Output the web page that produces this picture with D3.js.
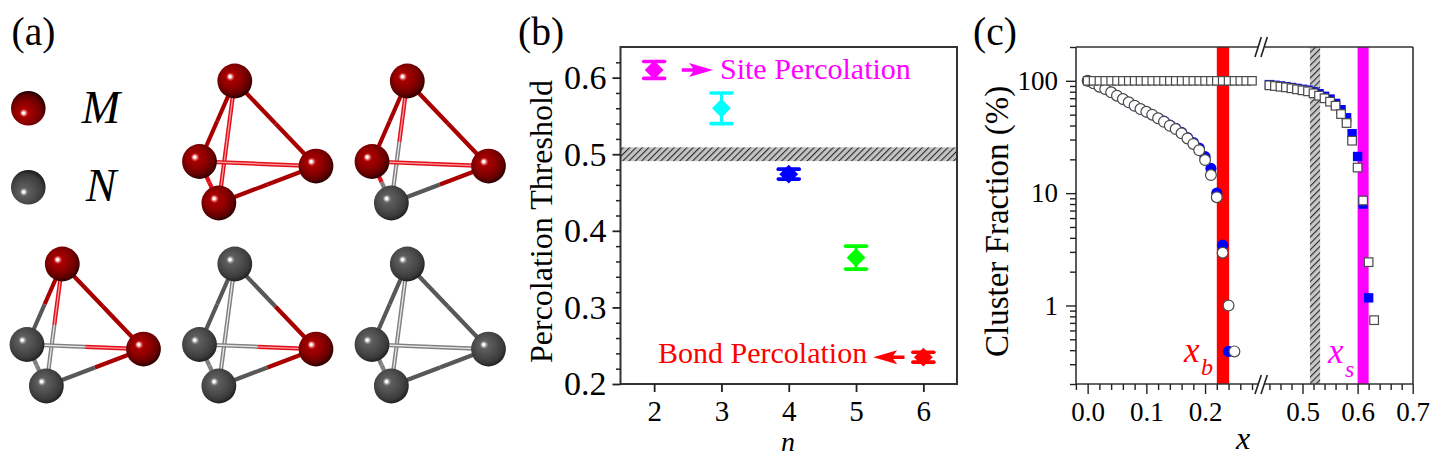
<!DOCTYPE html>
<html><head><meta charset="utf-8">
<script src="https://cdnjs.cloudflare.com/ajax/libs/d3/7.8.5/d3.min.js"></script>
<style>
html,body{margin:0;padding:0;background:#fff}
svg{display:block}
text{font-family:"Liberation Serif",serif}
</style></head><body>
<svg id="c" width="1437" height="460"></svg>
<script>
// ---------- data: panel (b)
const nValues   = [2, 3, 4, 5, 6];
const threshold = [0.61, 0.56, 0.474, 0.365, 0.235];
const thresholdErr = [0.011, 0.02, 0.0065, 0.015, 0.0065];
const nColors   = ["#ff00ff", "#00ffff", "#0000ff", "#00ff00", "#ff0000"];
const bandB     = [0.491, 0.509];
// ---------- data: panel (c)
const bondX = d3.range(0, 26).map(i => i / 100);
const bondOpen = [100,95,88.6,84.5,79,73.7,68.8,64.3,60,56,53,49.9,46.4,43.2,39.8,37.2,34.1,30.7,27.4,24.1,19.7,14.5,9.2,2.95,1.0,0.39];
const bondBlueX = d3.range(0, 25).map(i => i / 100);
const bondBlue = [100,95,88.6,84.5,79,73.7,68.8,64.3,60,56,53,49.9,46.4,43.7,40.3,37.7,34.7,31.3,28.2,25.2,21.1,16.6,10,3.44,0.39];
const flatX = d3.range(0, 29).map(i => i / 100);
const flatOpen = [100,100,100,100,100,100,100,100,100,100,100,100,100,100,100,100,100,100,100,100,100,100,100,100,100,100,100,100,100];
const siteX = d3.range(44, 64).map(i => i / 100);
const siteOpen = [91.2,89.9,88.6,87.5,85.8,84,82.3,80.6,77.4,73.7,69.9,65.2,60,50.6,42.1,29.3,16.9,8.6,2.43,0.74];
const siteBlueX = d3.range(44, 63).map(i => i / 100);
const siteBlue = [92.5,91.2,89.9,88.8,87.2,85.6,84,82.6,79.8,76.8,72.8,68.8,62.9,55.3,46.9,33.8,21.2,8.0,1.17];
const bandBond = [0.22, 0.241];
const bandSite = [0.6, 0.62];
const bandMid  = [0.5135, 0.532];
// ---------- data: panel (a)
const vertexU = {T:0.303, L:0, R:1, B:0.166};
const vertexV = {T:0, L:0.66, R:0.697, B:1};
const edges = [["T","L",0],["T","R",0],["B","R",0],["L","B",2],["T","B",1],["L","R",1]];
const molecules = [
 {col:1,row:0,M:"TLRB"},{col:2,row:0,M:"TLR"},
 {col:0,row:1,M:"TR"},{col:1,row:1,M:"R"},{col:2,row:1,M:""}
];

const svg = d3.select("#c");
const defs = svg.append("defs");
function sphereGrad(id, stops, cy, fy){
  const g = defs.append("radialGradient").attr("id",id)
    .attr("cx",0.46).attr("cy",cy).attr("r",0.62).attr("fx",0.355).attr("fy",fy);
  stops.forEach(s=>g.append("stop").attr("offset",s[0]).attr("stop-color",s[1]));
}
const redStops=[[0,"#fff"],[0.05,"#fff"],[0.13,"#dc5050"],[0.2,"#a80000"],[0.5,"#8c0000"],[0.78,"#600000"],[0.95,"#260000"],[1,"#1a0000"]];
const grayStops=[[0,"#fff"],[0.05,"#fff"],[0.13,"#909090"],[0.2,"#5e5e5e"],[0.5,"#4d4d4d"],[0.78,"#3a3a3a"],[0.95,"#1e1e1e"],[1,"#161616"]];
sphereGrad("sM",redStops,0.42,0.37); sphereGrad("sN",grayStops,0.42,0.37);
sphereGrad("lM",redStops,0.6,0.64);  sphereGrad("lN",grayStops,0.6,0.64);
function hatch(id,bg){
  const p=defs.append("pattern").attr("id",id).attr("patternUnits","userSpaceOnUse")
    .attr("width",4.5).attr("height",4.5).attr("patternTransform","rotate(45)");
  p.append("rect").attr("width",4.5).attr("height",4.5).attr("fill",bg);
  p.append("rect").attr("width",1.1).attr("height",4.5).attr("fill","#2a2a2a");
}
hatch("hb","#c4c4c4"); hatch("hc","#c8c8c8");

const label=(x,y,t,size,opt={})=>svg.append("text").attr("x",x).attr("y",y).text(t)
  .attr("font-size",size).attr("fill",opt.fill||"#000")
  .attr("font-style",opt.italic?"italic":"normal")
  .attr("text-anchor",opt.anchor||"start")
  .attr("transform",opt.rot?`rotate(-90 ${x} ${y})`:null);

// ---------- panel (a)
label(11.5,45,"(a)",39.5); label(518,45,"(b)",39.5); label(973,45,"(c)",39.5);
const colS=d3.scaleLinear().domain([0,2]).range([27,372]);
const rowS=d3.scaleLinear().domain([0,1]).range([81,264]);
const uS=d3.scaleLinear().domain([0,1]).range([0,116.5]);
const vS=d3.scaleLinear().domain([0,1]).range([0,122]);
const pa=svg.append("g");
molecules.forEach(m=>{
  const pos=k=>[colS(m.col)+uS(vertexU[k]),rowS(m.row)+vS(vertexV[k])];
  const isM=k=>m.M.includes(k);
  edges.forEach(e=>{
    const a=pos(e[0]),b=pos(e[1]),mid=[(a[0]+b[0])/2,(a[1]+b[1])/2];
    [[a,mid,e[0]],[mid,b,e[1]]].forEach(s=>{
      const red=isM(s[2]);
      const base=e[2]?(red?"#e0101c":"#808080"):(red?"#a80000":"#585858");
      pa.append("line").attr("x1",s[0][0]).attr("y1",s[0][1]).attr("x2",s[1][0]).attr("y2",s[1][1])
        .attr("stroke",base).attr("stroke-width",4.2);
      if(e[2]===1) pa.append("line").attr("x1",s[0][0]).attr("y1",s[0][1]).attr("x2",s[1][0]).attr("y2",s[1][1])
        .attr("stroke",red?"#ff9a9a":"#e8e8e8").attr("stroke-width",1.3);
    });
  });
  ["T","L","R","B"].forEach(k=>{
    const p=pos(k);
    pa.append("circle").attr("cx",p[0]).attr("cy",p[1]).attr("r",17.4).attr("fill",isM(k)?"url(#sM)":"url(#sN)");
  });
});
svg.append("circle").attr("cx",28.3).attr("cy",108.3).attr("r",17.3).attr("fill","url(#lM)");
svg.append("circle").attr("cx",28.3).attr("cy",187.3).attr("r",17.3).attr("fill","url(#lN)");
label(101,123,"M",46,{italic:true,anchor:"middle"});
label(101,201,"N",46,{italic:true,anchor:"middle"});

// ---------- panel (b)
const xB=d3.scaleLinear().domain([1.5,6.5]).range([620.5,957]);
const yB=d3.scaleLinear().domain([0.2,0.64]).range([384,47]);
const gb=svg.append("g");
gb.append("rect").attr("x",xB.range()[0]).attr("width",xB.range()[1]-xB.range()[0])
  .attr("y",yB(bandB[1])).attr("height",yB(bandB[0])-yB(bandB[1])).attr("fill","url(#hb)");
gb.append("rect").attr("x",xB.range()[0]).attr("y",47).attr("width",336.5).attr("height",337)
  .attr("fill","none").attr("stroke","#333").attr("stroke-width",2);
function styleAxis(g,size,font){
  g.select(".domain").remove();
  g.selectAll(".tick line").attr("stroke","#222").attr("stroke-width",size);
  g.selectAll(".tick text").attr("font-size",font).attr("font-family","Liberation Serif").attr("fill","#000");
}
const gbx=gb.append("g").attr("transform","translate(0,384)")
  .call(d3.axisBottom(xB).tickValues(nValues).tickFormat(d3.format("d")).tickSize(8).tickPadding(8));
styleAxis(gbx,1.8,29);
const gbym=gb.append("g").attr("transform","translate(620.5,0)")
  .call(d3.axisLeft(yB).tickValues(d3.range(0.22,0.64,0.02).filter(v=>Math.round(v*100)%10!==0)).tickFormat("").tickSize(4.5));
styleAxis(gbym,1.5,0);
const gby=gb.append("g").attr("transform","translate(620.5,0)")
  .call(d3.axisLeft(yB).tickValues([0.2,0.3,0.4,0.5,0.6]).tickFormat(d3.format(".1f")).tickSize(8).tickPadding(6));
styleAxis(gby,1.8,34);
nValues.forEach((n,i)=>{
  const c=nColors[i],x=xB(n),y=threshold[i],e=thresholdErr[i];
  gb.append("line").attr("x1",x).attr("x2",x).attr("y1",yB(y-e)).attr("y2",yB(y+e)).attr("stroke",c).attr("stroke-width",3);
  [y-e,y+e].forEach(v=>gb.append("line").attr("x1",x-10.5).attr("x2",x+10.5).attr("y1",yB(v)).attr("y2",yB(v))
    .attr("stroke",c).attr("stroke-width",3.6).attr("stroke-linecap","round"));
  gb.append("path").attr("d",d3.symbol(d3.symbolSquare,177)()).attr("fill",c)
    .attr("transform",`translate(${x},${yB(y)}) rotate(45)`);
});
function arrow(n0,v,n1,c){
  const x0=xB(n0),x1=xB(n1),y=yB(v),d=Math.sign(x1-x0);
  const p=d3.path();
  p.moveTo(x0,y-1.7);p.lineTo(x1-d*20,y-1.7);p.lineTo(x1-d*24,y-7);p.lineTo(x1,y);
  p.lineTo(x1-d*24,y+7);p.lineTo(x1-d*20,y+1.7);p.lineTo(x0,y+1.7);p.closePath();
  gb.append("path").attr("d",p.toString()).attr("fill",c);
}
arrow(2.41,threshold[0],2.875,"#ff00ff");
arrow(5.72,threshold[4],5.255,"#ff0000");
label(720,79,"Site Percolation",30,{fill:"#ff00ff"});
label(658,363,"Bond Percolation",30,{fill:"#ff0000"});
label(551.7,363,"Percolation Threshold",32,{rot:true});
label(788,451,"n",28,{italic:true,anchor:"middle"});

// ---------- panel (c)
const xL=d3.scaleLinear().domain([-0.02,0.29]).range([1075.9,1257.9]);
const xR=d3.scaleLinear().domain([0.5,0.7]).range([1302.5,1412.7]);
const yC=d3.scaleLog().domain([0.2,200]).range([384,47]);
const gc=svg.append("g");
[[xL,bandBond,"#ff0000"],[xR,bandSite,"#ff00ff"],[xR,bandMid,"url(#hc)"]].forEach(b=>{
  gc.append("rect").attr("x",b[0](b[1][0])).attr("width",b[0](b[1][1])-b[0](b[1][0]))
    .attr("y",47).attr("height",337).attr("fill",b[2]);
});
// frame
[[1076,47,1258,47],[1265,47,1413,47],[1076,384,1258,384],[1265,384,1413,384],[1076,47,1076,384],[1413,47,1413,384]]
 .forEach(l=>gc.append("line").attr("x1",l[0]).attr("y1",l[1]).attr("x2",l[2]).attr("y2",l[3]).attr("stroke","#333").attr("stroke-width",1.6));
[[375,394],[37,57]].forEach(r=>[1255,1261].forEach(x=>gc.append("line")
  .attr("x1",x).attr("y1",r[1]).attr("x2",x+6.3).attr("y2",r[0]).attr("stroke","#222").attr("stroke-width",1.6)));
const minorsL=d3.range(-2,29,2).map(v=>v/100).filter(v=>Math.round(v*100)%10!==0);
const minorsR=d3.range(44,71,2).map(v=>v/100).filter(v=>Math.round(v*100)%10!==0);
[[xL,minorsL,[0,0.1,0.2]],[xR,minorsR,[0.5,0.6,0.7]]].forEach(a=>{
  const m=gc.append("g").attr("transform","translate(0,384)")
    .call(d3.axisBottom(a[0]).tickValues(a[1]).tickFormat("").tickSize(6));
  styleAxis(m,1.4,0);
  const M=gc.append("g").attr("transform","translate(0,384)")
    .call(d3.axisBottom(a[0]).tickValues(a[2]).tickFormat(d3.format(".1f")).tickSize(10).tickPadding(8));
  styleAxis(M,1.4,27);
});
const logMajor=[1,10,100];
const logMinor=[];
[0.1,1,10,100].forEach(d=>[2,3,4,5,6,7,8,9].forEach(k=>{const v=d*k; if(v>=0.2&&v<=200) logMinor.push(v);}));
const cyM=gc.append("g").attr("transform","translate(1076,0)")
  .call(d3.axisLeft(yC).tickValues(logMinor).tickFormat("").tickSize(6));
styleAxis(cyM,1.4,0);
const cy=gc.append("g").attr("transform","translate(1076,0)")
  .call(d3.axisLeft(yC).tickValues(logMajor).tickFormat(d3.format("d")).tickSize(10).tickPadding(8));
styleAxis(cy,1.4,27);
label(1008,357,"Cluster Fraction (%)",33,{rot:true});
label(1243,449,"x",32,{italic:true,anchor:"middle"});

// blue first, open markers on top
const stroke="#4a4a4a";
gc.append("g").selectAll("circle").data(d3.zip(bondBlueX,bondBlue)).join("circle")
  .attr("cx",d=>xL(d[0])).attr("cy",d=>yC(d[1])).attr("r",5.6).attr("fill","#0000ff");
gc.append("g").selectAll("rect").data(d3.zip(siteBlueX,siteBlue)).join("rect")
  .attr("x",d=>xR(d[0])-4.7).attr("y",d=>yC(d[1])-4.7).attr("width",9.4).attr("height",9.4).attr("fill","#0000ff");
gc.append("g").selectAll("circle").data(d3.zip(bondX,bondOpen)).join("circle")
  .attr("cx",d=>xL(d[0])).attr("cy",d=>yC(d[1])).attr("r",5.4).attr("fill","#fff").attr("stroke",stroke).attr("stroke-width",1.2);
gc.append("g").selectAll("rect").data(d3.zip(flatX,flatOpen)).join("rect")
  .attr("x",d=>xL(d[0])-4.2).attr("y",d=>yC(d[1])-4.2).attr("width",8.4).attr("height",8.4).attr("fill","#fff").attr("stroke",stroke).attr("stroke-width",1.2);
gc.append("g").selectAll("rect").data(d3.zip(siteX,siteOpen)).join("rect")
  .attr("x",d=>xR(d[0])-4.3).attr("y",d=>yC(d[1])-4.3).attr("width",8.6).attr("height",8.6).attr("fill","#fff").attr("stroke",stroke).attr("stroke-width",1.2);
label(1184,362,"x",35,{italic:true,fill:"#ff0000"});
label(1201,375,"b",24,{italic:true,fill:"#ff0000"});
label(1328,363,"x",35,{italic:true,fill:"#ff00ff"});
label(1345,377,"s",24,{italic:true,fill:"#ff00ff"});
</script>
</body></html>
